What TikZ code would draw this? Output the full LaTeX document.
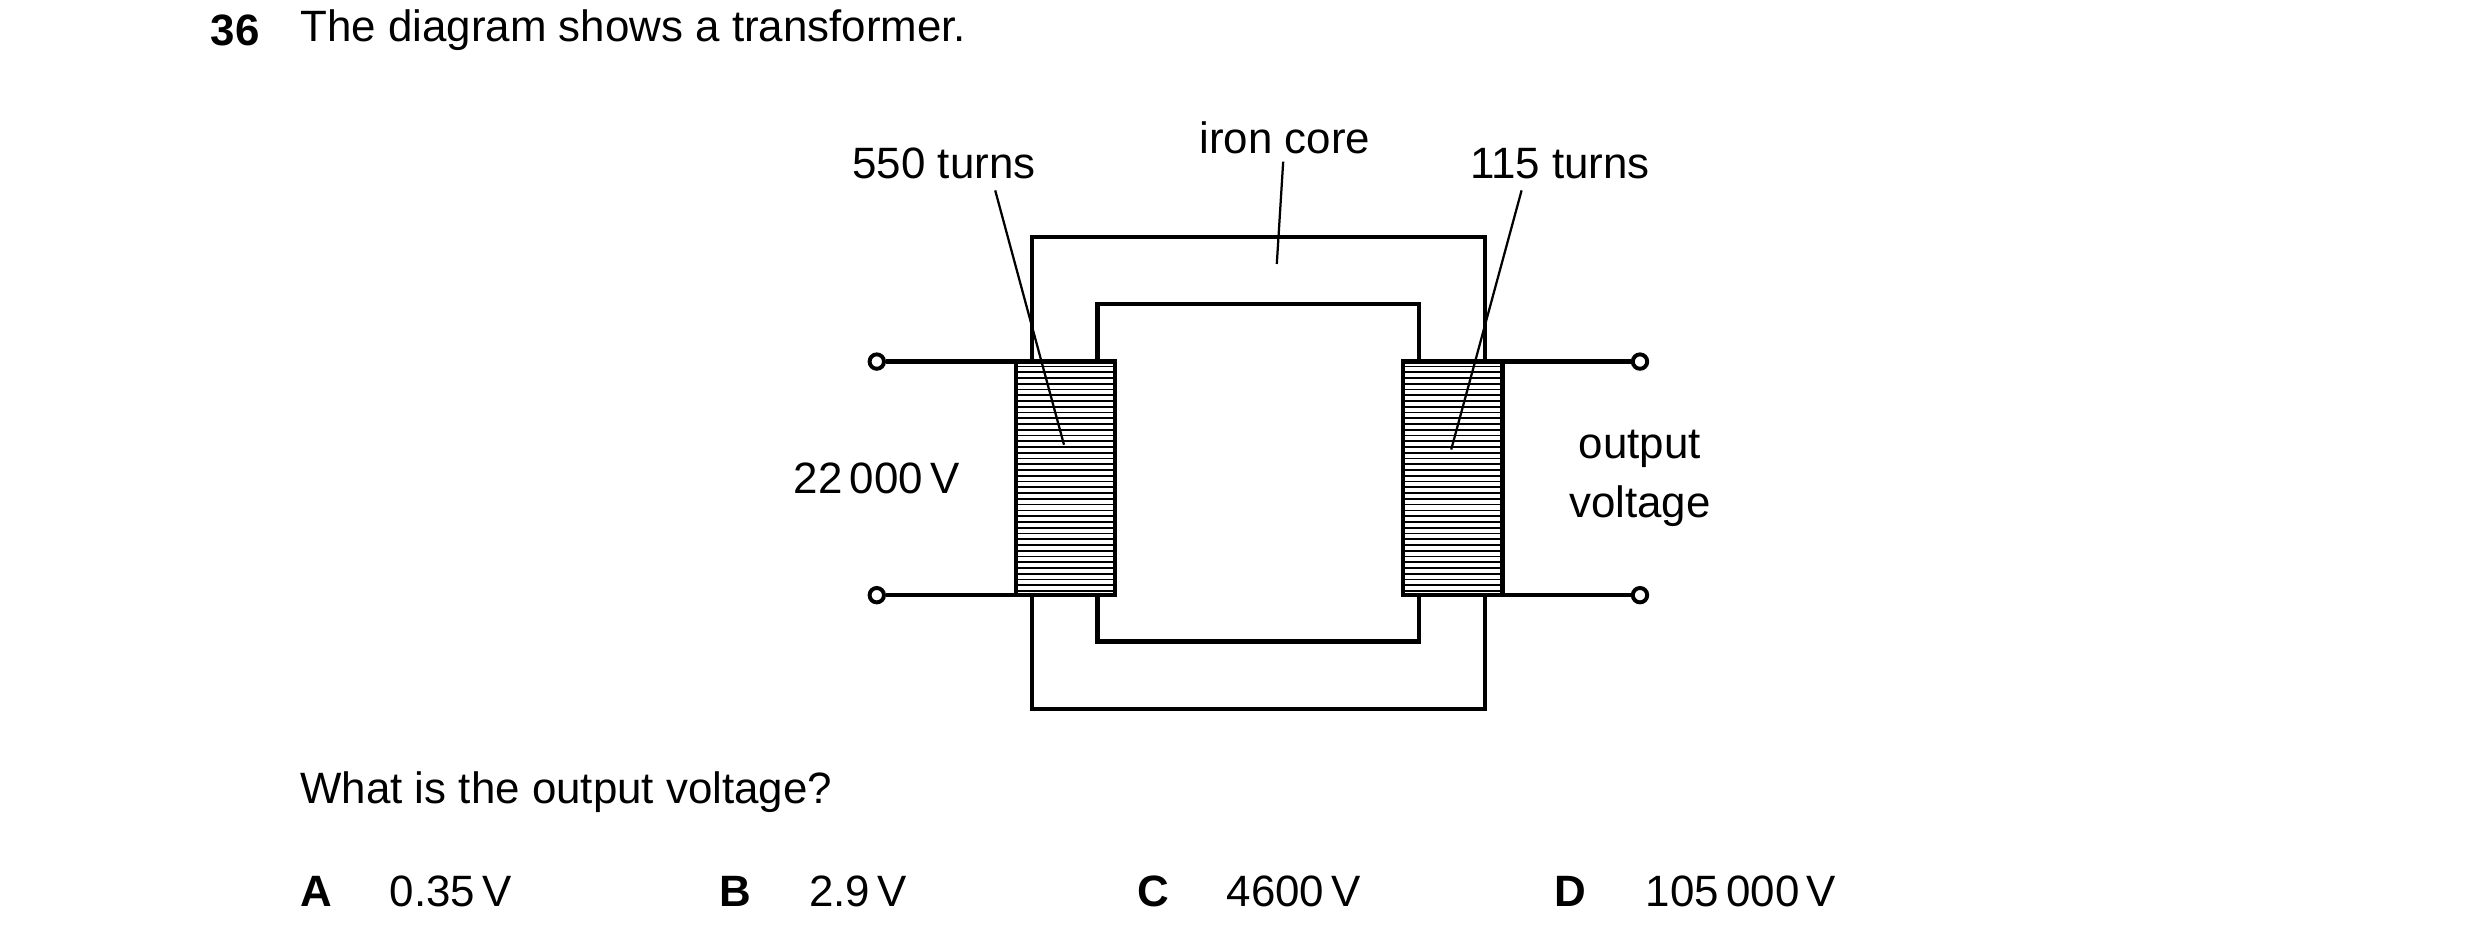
\documentclass[tikz,border=0pt]{standalone}
\usepackage{fontspec}
\setmainfont{Liberation Sans}
\begin{document}
\begin{tikzpicture}[x=0.01cm,y=-0.01cm,
  core/.style={line width=0.75pt},
  lead/.style={line width=0.4pt},
  txt/.style={inner sep=0pt,font=\fontsize{7.8}{9.5}\selectfont},
  term/.style={circle,draw,line width=0.7pt,fill=white,minimum size=0.09cm,inner sep=0pt}]
\useasboundingbox (0,0) rectangle (1550,586);
% core
\draw[core] (645,148) rectangle (928,443);
\draw[core] (686,190) rectangle (887,401);
% coils
\foreach \x in {635,877}{
  \fill[white] (\x,226) rectangle (\x+62,372);
  \foreach \i in {0,...,39} \draw[line width=0.3pt] (\x,229+\i*3.6) -- (\x+62,229+\i*3.6);
  \draw[core] (\x,226) rectangle (\x+62,372);
}
% terminals
\node[term] (t1) at (548,226) {};
\node[term] (t2) at (548,372) {};
\node[term] (t3) at (1025,226) {};
\node[term] (t4) at (1025,372) {};
\coordinate (c1) at (635,226); \coordinate (c2) at (635,372);
\coordinate (c3) at (939,226); \coordinate (c4) at (939,372);
\draw[core] (t1) -- (c1); \draw[core] (t2) -- (c2);
\draw[core] (t3) -- (c3); \draw[core] (t4) -- (c4);
% labels
\node[txt] (l1) at (590,102) {550 turns};
\node[txt] (l2) at (803,86) {iron core};
\node[txt] (l3) at (975,102) {115 turns};
\coordinate (p1) at (665,278); \coordinate (p2) at (798,165); \coordinate (p3) at (907,281);
\draw[lead] (622,119) -- (p1);
\draw[lead] (802,101) -- (p2);
\draw[lead] (951,119) -- (p3);
\node[txt] (v) at (548,299) {22\,000\,V};
\node[txt,align=center] (o) at (1025,299) {output\\[1pt]voltage};
% question text
\node[txt,anchor=west,font=\fontsize{7.8}{9.5}\selectfont\bfseries] (n) at (131,19) {36};
\node[txt,anchor=west] (q) at (187,19) {The diagram shows a transformer.};
\node[txt,anchor=west] (q2) at (187,495) {What is the output voltage?};
\node[txt,anchor=west,font=\fontsize{7.8}{9.5}\selectfont\bfseries] (A) at (187,557) {A};
\node[txt,anchor=west] (a) at (243,557) {0.35\,V};
\node[txt,anchor=west,font=\fontsize{7.8}{9.5}\selectfont\bfseries] (B) at (449,557) {B};
\node[txt,anchor=west] (b) at (505,557) {2.9\,V};
\node[txt,anchor=west,font=\fontsize{7.8}{9.5}\selectfont\bfseries] (C) at (710,557) {C};
\node[txt,anchor=west] (c) at (766,557) {4600\,V};
\node[txt,anchor=west,font=\fontsize{7.8}{9.5}\selectfont\bfseries] (D) at (971,557) {D};
\node[txt,anchor=west] (d) at (1028,557) {105\,000\,V};
\end{tikzpicture}
\end{document}
